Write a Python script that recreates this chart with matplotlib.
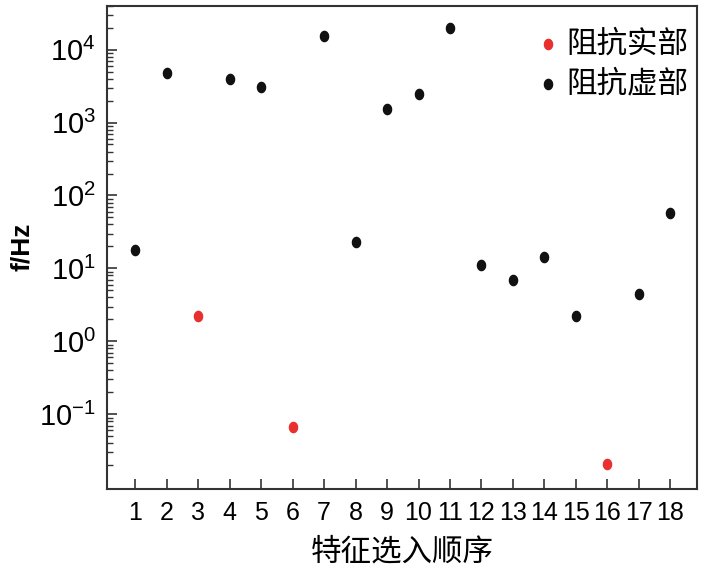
import matplotlib
matplotlib.use('Agg')
import matplotlib.pyplot as plt
import numpy as np
from matplotlib.path import Path

plt.rcParams['font.family'] = ['Liberation Sans', 'DejaVu Sans']
plt.rcParams['mathtext.default'] = 'regular'

# order of feature selection and the chosen frequency
order = np.arange(1, 19)
freq = [18, 4800, 2.2, 3900, 3100, 0.066, 15500, 23, 1550, 2500,
        20000, 11.3, 7.0, 14.5, 2.2, 0.021, 4.5, 58]
kind = ['imag', 'imag', 'real', 'imag', 'imag', 'real', 'imag', 'imag', 'imag',
        'imag', 'imag', 'imag', 'imag', 'imag', 'imag', 'real', 'imag', 'imag']
labels = {'real': '阻抗实部', 'imag': '阻抗虚部'}
colors = {'real': '#e8312f', 'imag': '#111111'}

# slightly tall ellipse marker like the original
t = np.linspace(0, 2 * np.pi, 40)
ellipse = Path(np.column_stack([0.82 * np.cos(t), np.sin(t)]))

fig = plt.figure(figsize=(7.04, 5.71), dpi=100)
ax = fig.add_axes([0.152, 0.144, 0.838, 0.846])

for k in ['real', 'imag']:
    xs = [o for o, kk in zip(order, kind) if kk == k]
    ys = [f for f, kk in zip(freq, kind) if kk == k]
    ax.scatter(xs, ys, s=70, marker=ellipse, c=colors[k], label=labels[k],
               linewidths=0, zorder=3)

ax.set_yscale('log')
ax.set_ylim(0.0095, 4e4)
ax.set_xlim(0.1, 18.85)
ax.set_xticks(order)
ax.set_xticklabels([str(o) for o in order], fontsize=18)
ax.set_yticks([0.1, 1, 10, 100, 1000, 10000])
ax.tick_params(axis='y', labelsize=21)

for side in ['top', 'right', 'left', 'bottom']:
    ax.spines[side].set_linewidth(1.5)
    ax.spines[side].set_color('#333333')
ax.tick_params(which='major', direction='in', length=7, width=1.2,
               color='#333333', right=False, top=False)
ax.tick_params(which='minor', direction='in', length=4, width=1.0,
               color='#333333', right=False, top=False)
ax.tick_params(axis='x', pad=9)
ax.tick_params(axis='y', pad=8)

ax.set_xlabel('特征选入顺序', fontsize=22, family=['Noto Sans CJK SC'], labelpad=8)
ax.set_ylabel('f/Hz', fontsize=19, fontweight='bold', labelpad=4)

ax.legend(loc='upper right', bbox_to_anchor=(1.012, 0.985), frameon=False,
          prop={'family': 'Noto Sans CJK SC', 'size': 22},
          handletextpad=0.1, borderaxespad=0.1, labelspacing=0.3,
          handlelength=1.0)

fig.savefig('out.png', dpi=100)
